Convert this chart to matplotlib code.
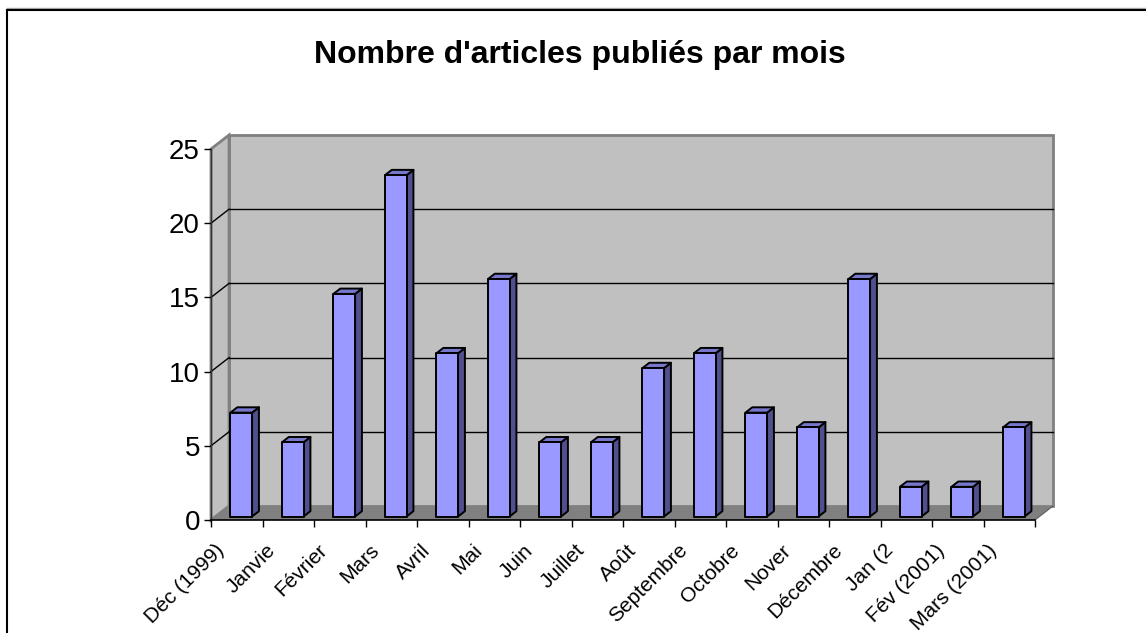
import matplotlib
matplotlib.use("Agg")
import matplotlib.pyplot as plt
from matplotlib.patches import Polygon
from matplotlib.lines import Line2D
import numpy as np

plt.rcParams['font.family'] = ['Liberation Sans', 'DejaVu Sans']

# data
mois = ["Déc (1999)", "Janvie", "Février", "Mars", "Avril", "Mai", "Juin",
        "Juillet", "Août", "Septembre", "Octobre", "Nover", "Décembre",
        "Jan (2", "Fév (2001)", "Mars (2001)"]
articles = [7, 5, 15, 23, 11, 16, 5, 5, 10, 11, 7, 6, 16, 2, 2, 6]
yticks = [0, 5, 10, 15, 20, 25]

W, H = 1146, 633
fig = plt.figure(figsize=(W / 100, H / 100), dpi=100)
ax = fig.add_axes([211 / W, 1 - 520 / H, (1035 - 211) / W, (520 - 149) / H])

n = len(articles)
ymax = 25
ax.set_xlim(0, n)
ax.set_ylim(0, ymax)

# depth of the 3d box, in data units
dx, dy = 0.35, 0.943
wall = '#C0C0C0'
floor = '#808080'
edge = '#808080'

# back wall, side wall, floor
ax.add_patch(Polygon([(dx, dy), (n + dx, dy), (n + dx, ymax + dy), (dx, ymax + dy)],
                     closed=True, fc=wall, ec=edge, lw=2, clip_on=False, zorder=1))
ax.add_patch(Polygon([(0, 0), (dx, dy), (dx, ymax + dy), (0, ymax)],
                     closed=True, fc=wall, ec=edge, lw=2, clip_on=False, zorder=1))
ax.add_patch(Polygon([(0, 0), (n, 0), (n + dx, dy), (dx, dy)],
                     closed=True, fc=floor, ec='none', clip_on=False, zorder=1.5))
ax.plot([n, n + dx], [0, dy], color='#606060', lw=0.8, clip_on=False, zorder=1.6)

# gridlines on the walls
for v in yticks[1:-1]:
    ax.plot([dx, n + dx], [v + dy, v + dy], color='black', lw=1, zorder=2, clip_on=False)
    ax.plot([0, dx], [v, v + dy], color='black', lw=1, zorder=2, clip_on=False)

# 3d bars
w = 0.42
z0, z1 = 0.25, 0.63
face = '#9999FF'
top = '#7777CC'
side = '#50508F'
for i, v in enumerate(articles):
    xl = i + 0.5 - w / 2 + z0 * dx
    xr = xl + w
    yb = z0 * dy
    yt = v + z0 * dy
    ddx = (z1 - z0) * dx
    ddy = (z1 - z0) * dy
    ax.add_patch(Polygon([(xr, yb), (xr + ddx, yb + ddy), (xr + ddx, yt + ddy), (xr, yt)],
                         closed=True, fc=side, ec='black', lw=1.4, zorder=3, clip_on=False,
                         joinstyle='round'))
    ax.add_patch(Polygon([(xl, yt), (xr, yt), (xr + ddx, yt + ddy), (xl + ddx, yt + ddy)],
                         closed=True, fc=top, ec='black', lw=1.4, zorder=3, clip_on=False,
                         joinstyle='round'))
    ax.add_patch(Polygon([(xl, yb), (xr, yb), (xr, yt), (xl, yt)],
                         closed=True, fc=face, ec='black', lw=1.4, zorder=3.1, clip_on=False,
                         joinstyle='round'))

# axes
for s in ['top', 'right']:
    ax.spines[s].set_visible(False)
ax.spines['left'].set_color('#333333')
ax.spines['left'].set_linewidth(1)
ax.spines['bottom'].set_color('black')
ax.spines['bottom'].set_linewidth(1.2)
ax.spines['left'].set_zorder(4)
ax.spines['bottom'].set_zorder(4)
ax.patch.set_visible(False)

ax.set_yticks(yticks)
ax.tick_params(axis='y', length=5, width=1, pad=3, labelsize=20, colors='black')
ax.set_xticks(np.arange(n + 1))
ax.set_xticklabels([])
ax.tick_params(axis='x', which='major', length=5, width=1)

# category labels, rotated, ending just left of each category centre
for i, lab in enumerate(mois):
    ax.annotate(lab, xy=(i + 0.5, 0), xycoords=('data', 'axes fraction'),
                xytext=(-16, -15), textcoords='offset points',
                rotation=45, ha='right', va='top', rotation_mode='anchor',
                fontsize=15, annotation_clip=False)

fig.text(0.506, 1 - 63 / H, "Nombre d'articles publiés par mois",
         ha='center', va='baseline', fontsize=23, fontweight='bold')

# chart border (top and left only visible)
fig.add_artist(Line2D([7 / W, 1], [1 - 8 / H, 1 - 8 / H], color='#AAAAAA', lw=1,
                      transform=fig.transFigure))
fig.add_artist(Line2D([7 / W, 1], [1 - 10 / H, 1 - 10 / H], color='black', lw=1.5,
                      transform=fig.transFigure))
fig.add_artist(Line2D([7 / W, 7 / W], [0, 1 - 10 / H], color='black', lw=1.5,
                      transform=fig.transFigure))

fig.savefig("out.png", dpi=100, facecolor='white')
